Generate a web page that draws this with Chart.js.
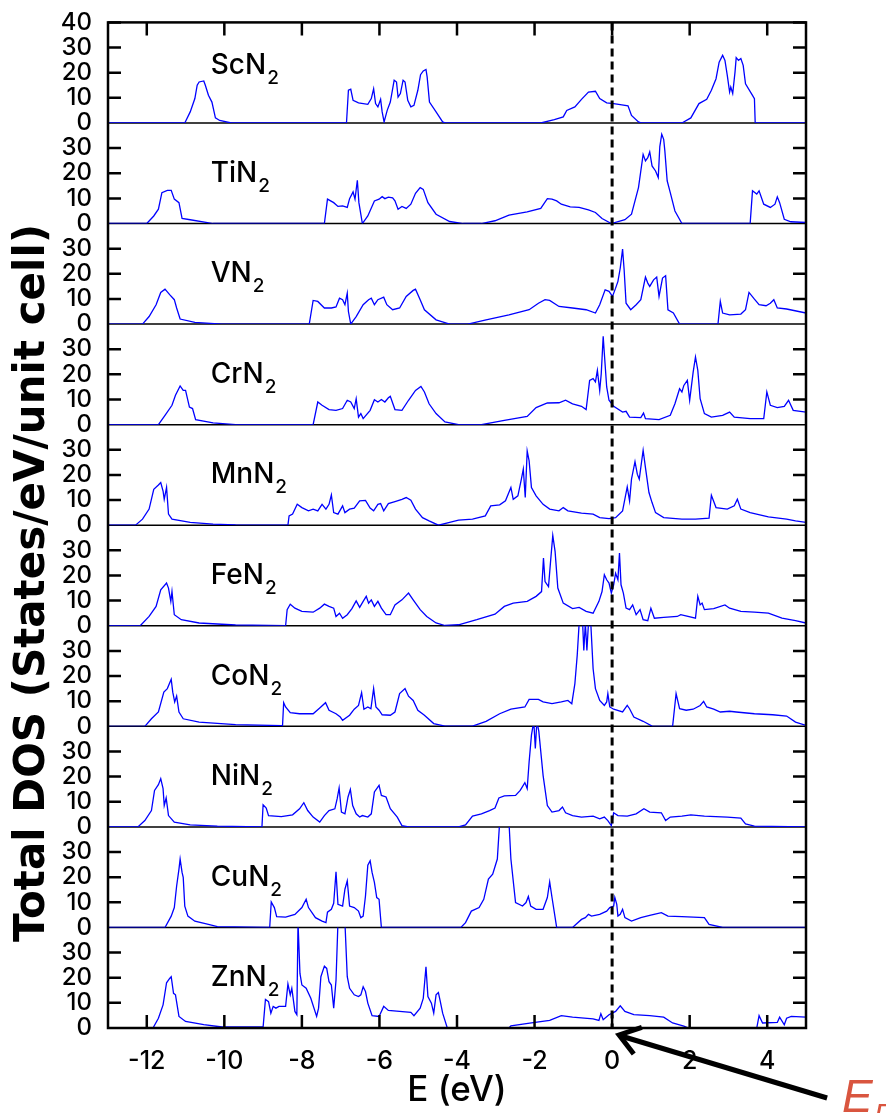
<!DOCTYPE html>
<html>
<head>
<meta charset="utf-8">
<script src="https://cdn.jsdelivr.net/npm/chart.js@4.4.1/dist/chart.umd.min.js"></script>
<style>
  html, body { margin: 0; padding: 0; background: #fff; }
  #wrap { position: relative; width: 886px; height: 1113px; }
</style>
</head>
<body>
<div id="wrap"><canvas id="dosChart"></canvas></div>
<script>
// metals of the MN2 compounds, top panel first
const compounds = ['Sc', 'Ti', 'V', 'Cr', 'Mn', 'Fe', 'Co', 'Ni', 'Cu', 'Zn'];
const energyTicks = [-12, -10, -8, -6, -4, -2, 0, 2, 4];
const dosTicks = [0, 10, 20, 30];
const dosTicksTop = [0, 10, 20, 30, 40];

// [E (eV), total DOS]
const scN2 = [[-13,0],[-11.02,0],[-10.88,4.4],[-10.76,9.7],[-10.70,15],[-10.65,16.3],[-10.53,16.7],[-10.49,15],[-10.41,11],[-10.32,8.3],[-10.23,2],[-10.12,1],[-9.82,0],
  [-6.85,0],[-6.80,13],[-6.74,13.4],[-6.68,9],[-6.54,8],[-6.30,7.4],[-6.21,9.7],[-6.15,13.6],[-6.10,7.7],[-6.04,6.4],[-5.97,9.4],[-5.93,4.4],[-5.88,0.4],[-5.80,5],[-5.72,8.3],
  [-5.62,17],[-5.56,16.3],[-5.52,10.3],[-5.46,11.7],[-5.39,17],[-5.34,16.3],[-5.27,9],[-5.19,6.4],[-5.11,7],[-5.01,13],[-4.94,19.2],[-4.87,20.7],[-4.80,21.3],[-4.77,18.3],
  [-4.71,8.3],[-4.54,4.4],[-4.37,0.4],[-4.31,0],[-1.84,0],[-1.49,1.3],[-1.26,2.4],[-1.17,5],[-0.96,6.4],[-0.79,9.4],[-0.61,12.3],[-0.43,12.6],[-0.32,9.7],[-0.14,8],
  [0.04,7.7],[0.21,7.3],[0.41,6.8],[0.50,3],[0.68,0.4],[0.74,0],[1.80,0],[2.03,2],[2.24,7.7],[2.44,9.4],[2.56,13],[2.68,17.6],[2.76,24.2],[2.85,26.9],[2.91,24.9],
  [2.97,18.9],[3.03,12.3],[3.06,14.3],[3.11,11.7],[3.17,20.3],[3.20,26],[3.26,24.9],[3.32,25.6],[3.38,22.9],[3.44,15.6],[3.62,11],[3.67,9.7],[3.69,0],[5,0]];

const tiN2 = [[-13,0],[-12,0],[-11.82,3],[-11.70,5.7],[-11.61,12.3],[-11.47,13.2],[-11.37,13.2],[-11.29,9.7],[-11.17,8.3],[-11.09,2],[-10.88,1.5],[-10.29,0],
  [-7.42,0],[-7.34,9.7],[-7.18,8.3],[-7.07,6.8],[-6.95,7],[-6.83,6.4],[-6.77,9.9],[-6.68,12.6],[-6.63,9.7],[-6.57,17.2],[-6.53,8.3],[-6.44,0],[-6.30,3],[-6.13,9],
  [-6.01,9.7],[-5.93,10.7],[-5.86,9.9],[-5.77,10.5],[-5.66,10.2],[-5.60,9],[-5.52,5.7],[-5.42,6.8],[-5.31,6],[-5.19,7.7],[-5.07,12],[-4.95,14.3],[-4.87,13.6],[-4.75,8.3],
  [-4.54,3.7],[-4.19,0.8],[-3.84,0],[-3.37,0],[-3.02,1.1],[-2.66,3.3],[-2.19,4.6],[-1.84,6],[-1.67,9.9],[-1.55,9.7],[-1.43,9],[-1.31,7.7],[-1.08,6.6],[-0.85,6.4],
  [-0.61,5.4],[-0.43,4.4],[-0.26,2],[-0.02,0],[0.33,1.5],[0.50,3.7],[0.68,14.3],[0.80,27.5],[0.86,24.9],[0.92,26.2],[0.97,28.5],[1.03,22.9],[1.12,20.9],[1.19,18.3],
  [1.23,30.6],[1.28,35.5],[1.33,33.5],[1.36,28.9],[1.42,17],[1.50,12.3],[1.62,5],[1.80,0],[3.56,0],[3.62,13],[3.73,11.7],[3.79,13],[3.91,7.7],[4.08,6.4],[4.20,7.7],
  [4.26,10.6],[4.32,8.3],[4.44,1.7],[4.61,0.7],[5,0.4]];

const vN2 = [[-13,0],[-12.11,0],[-11.94,3],[-11.76,7.7],[-11.64,12.6],[-11.53,13.9],[-11.41,11.7],[-11.29,9.7],[-11.23,6.4],[-11.14,2],[-10.76,0.7],[-10.06,0],
  [-7.81,0],[-7.71,9.4],[-7.59,9],[-7.42,6.4],[-7.24,6.4],[-7.12,6.8],[-7.03,10.3],[-6.95,9.7],[-6.89,7.7],[-6.83,12.3],[-6.80,5],[-6.74,0],[-6.60,3],[-6.42,7.7],
  [-6.28,9.7],[-6.21,10.3],[-6.13,7.7],[-6.04,9.7],[-5.89,10.7],[-5.81,7.7],[-5.66,5.7],[-5.48,6.4],[-5.31,11],[-5.13,13.4],[-5.07,13.9],[-4.95,9.7],[-4.84,5.7],
  [-4.54,1.7],[-4.19,0],[-3.72,0],[-3.25,1.7],[-2.66,3.7],[-2.14,5.7],[-1.90,8.3],[-1.73,9.7],[-1.61,9.4],[-1.37,7],[-1.02,6.4],[-0.67,5.7],[-0.43,4.4],[-0.32,7.7],
  [-0.18,13.6],[-0.08,13],[0.01,11],[0.09,14.3],[0.15,17],[0.21,22.3],[0.27,29.8],[0.31,21.6],[0.36,8.3],[0.48,5.7],[0.62,7.7],[0.74,9.7],[0.86,18.7],[0.92,16.3],
  [0.97,15],[1.07,17.6],[1.15,18.7],[1.21,11],[1.30,18.3],[1.38,19.2],[1.44,5.7],[1.58,4.4],[1.74,0],[2.73,0],[2.79,9],[2.85,4.4],[3.03,3.7],[3.32,4],[3.44,5.7],
  [3.53,12.6],[3.67,9.9],[3.79,7.7],[3.97,7.3],[4.08,8.3],[4.17,9.7],[4.26,6.4],[4.50,6],[5,4.4]];

const crN2 = [[-13,0],[-11.70,0],[-11.53,3.7],[-11.35,7.7],[-11.26,11.7],[-11.14,15.4],[-11.06,13.6],[-11.00,13.6],[-10.90,7],[-10.82,6.4],[-10.74,2],[-10.29,0.7],[-9.71,0],
  [-7.71,0],[-7.59,9],[-7.48,7.7],[-7.30,6],[-7.12,5.7],[-6.95,6.4],[-6.83,9.7],[-6.74,9],[-6.65,6.4],[-6.60,10.3],[-6.54,3],[-6.48,4.4],[-6.42,2.4],[-6.24,5.7],
  [-6.13,9.9],[-6.04,9],[-5.95,10],[-5.86,9],[-5.77,10.7],[-5.72,11.3],[-5.60,6],[-5.42,5.7],[-5.25,9.7],[-5.07,13.6],[-4.93,15.2],[-4.84,13],[-4.72,8.3],[-4.54,4.4],
  [-4.31,1.1],[-3.96,0],[-3.37,0],[-2.78,1.7],[-2.19,3.3],[-1.96,6.8],[-1.67,8.6],[-1.37,8.7],[-1.20,9.7],[-1.02,8.3],[-0.79,7.3],[-0.67,6],[-0.58,17.6],[-0.49,18.3],
  [-0.43,17],[-0.38,21.6],[-0.32,13.6],[-0.28,20.3],[-0.23,35.1],[-0.20,28.2],[-0.14,15],[-0.08,9.7],[0.04,7.3],[0.27,5],[0.36,5.3],[0.45,3],[0.74,2.8],[0.81,4.6],
  [0.86,2.4],[1.21,2],[1.50,3.7],[1.62,8.3],[1.74,14.3],[1.80,13],[1.85,15.6],[1.94,17.6],[2.00,9.7],[2.09,20.9],[2.15,26.9],[2.21,21.6],[2.27,10.3],[2.38,4.4],
  [2.56,3],[2.85,3.7],[3.03,5],[3.15,3],[3.56,2.4],[3.91,2.4],[3.99,13],[4.08,7.7],[4.26,6.8],[4.44,7.3],[4.55,9.7],[4.67,5.7],[5,5]];

const mnN2 = [[-13,0],[-12.29,0],[-12.11,2.4],[-11.94,6.4],[-11.82,14.3],[-11.70,16],[-11.64,17],[-11.58,13.6],[-11.55,10.3],[-11.49,15],[-11.44,4.4],[-11.35,2.4],
  [-10.88,1.1],[-10.29,0.4],[-9.71,0.1],[-8.36,0],[-8.33,3.7],[-8.24,4.4],[-8.12,8.3],[-8.00,7],[-7.83,5.7],[-7.71,6.4],[-7.59,5.7],[-7.48,8.3],[-7.38,6.4],[-7.30,8.3],
  [-7.24,12],[-7.18,5],[-7.07,4.4],[-6.95,7.7],[-6.89,5],[-6.77,6.4],[-6.65,6.8],[-6.51,9.7],[-6.36,9.9],[-6.24,6.8],[-6.15,5.7],[-6.04,8.3],[-5.97,8.6],[-5.89,5.7],
  [-5.77,8.6],[-5.60,9.4],[-5.42,10.3],[-5.31,11],[-5.19,9.9],[-5.07,6.4],[-4.89,3],[-4.72,1.7],[-4.48,0],[-4.19,1.1],[-3.96,2],[-3.60,2.4],[-3.27,3.7],[-3.13,7.7],
  [-2.90,8.1],[-2.75,9.7],[-2.61,15],[-2.55,10.3],[-2.43,11.7],[-2.34,18.3],[-2.29,22.3],[-2.24,11],[-2.19,29.5],[-2.14,25.6],[-2.08,15],[-1.96,11.7],[-1.78,8.3],
  [-1.61,6.4],[-1.37,5.7],[-1.26,7],[-1.14,5.7],[-0.79,4.8],[-0.49,4.4],[-0.32,3],[-0.08,2.6],[0.09,3],[0.27,5.7],[0.39,15.2],[0.45,9.7],[0.50,18.3],[0.59,25.3],
  [0.65,20.3],[0.70,18.3],[0.80,29.8],[0.86,22.9],[0.95,13],[1.03,9],[1.12,5],[1.33,3],[1.80,2.4],[2.15,2.4],[2.50,2.8],[2.56,11.9],[2.68,7],[2.97,6.4],[3.15,7.7],
  [3.23,10.3],[3.32,6.4],[3.56,5],[4.03,3.3],[4.50,2.4],[4.73,1.7],[5,1.1]];

const feN2 = [[-13,0],[-12.17,0],[-11.94,3.7],[-11.76,7.7],[-11.64,14.3],[-11.49,17],[-11.44,15],[-11.38,9.7],[-11.35,13.6],[-11.29,4.4],[-11.11,2.4],[-10.65,1.1],
  [-9.71,0.3],[-8.42,0],[-8.38,6.4],[-8.30,8.6],[-8.18,7],[-8.00,5.7],[-7.71,5.4],[-7.54,7],[-7.42,8.6],[-7.30,7.7],[-7.18,7],[-7.12,3.7],[-7.03,5],[-6.95,3],
  [-6.83,4.4],[-6.71,6.8],[-6.60,9.9],[-6.51,7.3],[-6.42,9.7],[-6.34,11.7],[-6.28,9],[-6.21,10.3],[-6.13,7.7],[-6.04,9.7],[-5.95,7],[-5.83,4.4],[-5.72,4.4],[-5.60,8.3],
  [-5.42,10.3],[-5.25,13],[-5.13,10.3],[-4.95,6.4],[-4.78,3.7],[-4.54,1.1],[-4.31,0.1],[-3.96,0.4],[-3.49,2.4],[-3.02,4.6],[-2.78,7.7],[-2.55,9],[-2.19,9.7],
  [-1.96,11.7],[-1.82,13.6],[-1.77,26.9],[-1.73,17.6],[-1.64,15.6],[-1.58,26.9],[-1.53,35.9],[-1.47,29.5],[-1.40,15],[-1.26,9],[-1.02,6.8],[-0.85,7.3],[-0.67,5.7],
  [-0.49,5],[-0.34,9.7],[-0.26,13.6],[-0.20,20.3],[-0.14,18.3],[-0.08,17],[-0.02,13],[0.04,16.3],[0.09,20.9],[0.15,18.3],[0.19,28.9],[0.23,16.3],[0.29,13],[0.36,7],
  [0.45,6.4],[0.53,8.3],[0.62,4.4],[0.72,6.4],[0.80,2.4],[0.92,2],[1.00,7],[1.09,3],[1.33,3.3],[1.68,3.7],[1.77,4.4],[2.15,3],[2.21,11.7],[2.27,8.3],[2.32,9],
  [2.38,6.4],[2.62,6.8],[2.91,8.3],[3.03,7],[3.32,5.7],[3.67,5.4],[4.03,5],[4.38,3],[4.73,2],[5,1.1]];

const coN2 = [[-13,0],[-12.05,0],[-11.88,3],[-11.70,5.7],[-11.56,13.6],[-11.47,15],[-11.37,18.7],[-11.33,13.6],[-11.28,9.7],[-11.23,12],[-11.17,5.7],[-11.06,3],
  [-10.65,1.7],[-9.71,0.7],[-8.53,0.3],[-8.50,0],[-8.47,9.4],[-8.42,7.7],[-8.30,5.4],[-8.06,5],[-7.71,5],[-7.54,7.3],[-7.39,9.4],[-7.30,6.4],[-7.12,5],[-7.01,3.7],
  [-6.95,2.4],[-6.77,4.4],[-6.65,6.8],[-6.54,8.3],[-6.46,13.4],[-6.40,6.8],[-6.30,7.7],[-6.22,7],[-6.15,15],[-6.09,7.7],[-6.01,6.4],[-5.93,4.6],[-5.72,4.4],[-5.60,5.7],
  [-5.48,13],[-5.34,15],[-5.25,12],[-5.13,10.3],[-5.01,6.4],[-4.84,4.4],[-4.60,1.1],[-4.31,0.1],[-3.60,0.1],[-3.25,2],[-2.90,5],[-2.61,6.8],[-2.25,7.7],[-2.14,10.7],
  [-1.90,10.7],[-1.78,9.7],[-1.55,9],[-1.31,9.7],[-1.14,10.3],[-1.04,9],[-0.96,17],[-0.90,28.2],[-0.85,41],[-0.76,41],[-0.73,30.2],[-0.69,41],[-0.65,30.2],[-0.61,41],
  [-0.55,41],[-0.49,22.9],[-0.43,15],[-0.32,10.3],[-0.20,8.3],[-0.14,9.7],[-0.11,13],[-0.06,7.7],[0.04,6.8],[0.27,5.7],[0.39,8.3],[0.45,7],[0.56,3.7],[0.80,2],
  [1.03,0.1],[1.56,0],[1.65,13],[1.74,7],[1.91,6.4],[2.09,6.8],[2.27,8.3],[2.36,9.9],[2.44,7.7],[2.62,6.8],[2.79,5.7],[3.03,6],[3.20,5.7],[3.67,5],[4.14,4.6],
  [4.50,4.1],[4.73,1.7],[5,0.4]];

const niN2 = [[-13,0],[-12.23,0],[-12.05,2.5],[-11.88,6.5],[-11.80,14.5],[-11.70,16.8],[-11.64,19.2],[-11.58,15.2],[-11.55,8.5],[-11.50,11.5],[-11.44,4.5],[-11.29,1.9],
  [-10.88,0.8],[-10.18,0.3],[-9.03,0],[-9.00,8.8],[-8.92,7.5],[-8.86,4.5],[-8.53,4.1],[-8.24,4.8],[-8.06,7.2],[-7.95,9.6],[-7.85,6.5],[-7.71,3.9],[-7.54,1.9],
  [-7.42,4.5],[-7.30,6.5],[-7.15,7.2],[-7.09,11.2],[-7.04,15.5],[-6.98,5.9],[-6.89,5.2],[-6.81,11.9],[-6.75,14.9],[-6.69,8.5],[-6.60,5.2],[-6.51,3.9],[-6.44,4.5],
  [-6.30,3.9],[-6.21,5.2],[-6.13,13.9],[-6.01,16.5],[-5.95,12.5],[-5.83,11.9],[-5.72,7.2],[-5.54,3.9],[-5.42,0.5],[-5.25,0],[-3.96,0],[-3.78,0.8],[-3.60,4.3],
  [-3.37,5.2],[-3.16,6.5],[-3.02,7.5],[-2.92,11.5],[-2.78,12.3],[-2.49,12.5],[-2.37,14.5],[-2.25,17.6],[-2.19,15.2],[-2.14,25.9],[-2.08,36.5],[-2.02,42],[-1.98,31.2],
  [-1.94,42],[-1.89,38],[-1.78,20.5],[-1.67,8.5],[-1.55,5.9],[-1.37,6.5],[-1.28,7.9],[-1.20,5.6],[-1.02,4.5],[-0.79,3.9],[-0.49,4.3],[-0.32,3.2],[-0.20,3.9],
  [-0.11,2.5],[-0.02,0.5],[0.04,5.6],[0.15,4.5],[0.39,4.3],[0.62,5.2],[0.82,7.2],[0.97,5.9],[1.27,5.6],[1.38,2.5],[1.50,3.9],[1.80,4.3],[2.03,4.8],[2.38,4.3],
  [2.97,3.9],[3.32,3.5],[3.44,1.2],[3.67,0.3],[5,0]];

const cuN2 = [[-13,0],[-11.53,0],[-11.37,4.5],[-11.29,7.9],[-11.23,16.5],[-11.17,23.2],[-11.14,27.2],[-11.09,21.9],[-11.06,19.9],[-11.02,8.5],[-10.94,4.5],[-10.76,2.5],
  [-10.41,1.2],[-10.18,0.3],[-8.83,0],[-8.79,10.1],[-8.71,7.9],[-8.65,4.3],[-8.42,4.1],[-8.18,5.2],[-8.00,7.9],[-7.89,11.2],[-7.83,7.9],[-7.65,3.9],[-7.48,2.5],
  [-7.38,1.9],[-7.34,6.1],[-7.24,7.2],[-7.18,9.6],[-7.12,22.1],[-7.07,9.2],[-6.95,8.5],[-6.89,15.2],[-6.83,18.5],[-6.77,8.5],[-6.65,7.9],[-6.54,6.5],[-6.48,3.9],
  [-6.42,4.5],[-6.36,12.5],[-6.30,24.8],[-6.24,26.5],[-6.19,21.9],[-6.13,17.9],[-6.07,11.9],[-6.01,11.2],[-5.95,0],[-3.90,0],[-3.78,1.9],[-3.63,6.5],[-3.43,7.9],
  [-3.31,11.2],[-3.19,19.2],[-3.08,21.2],[-2.96,27.2],[-2.90,42],[-2.66,42],[-2.61,27.2],[-2.49,9.9],[-2.31,8.5],[-2.22,9.9],[-2.16,12.3],[-2.10,8.5],[-1.96,7.2],
  [-1.78,7.2],[-1.67,11.9],[-1.61,18.1],[-1.55,11.9],[-1.43,0],[-1.02,0],[-0.79,3.2],[-0.69,3.9],[-0.61,5.2],[-0.53,4.5],[-0.32,5.2],[-0.14,6.5],[-0.06,7.9],
  [0.04,8.5],[0.07,11.9],[0.12,9.2],[0.15,4.5],[0.21,5.2],[0.27,7.2],[0.33,3.9],[0.50,2.5],[0.74,3.9],[0.97,4.8],[1.27,5.9],[1.44,4.5],[1.80,4.3],[2.38,3.9],
  [2.50,1.2],[2.85,0],[5,0]];

const znN2 = [[-13,0],[-11.84,0],[-11.70,3.9],[-11.58,9.2],[-11.49,18],[-11.41,19.7],[-11.37,20.4],[-11.31,13.8],[-11.26,13.2],[-11.17,4.6],[-11.00,2.6],[-10.53,1.3],
  [-10.06,0.4],[-9.00,0.4],[-8.94,11.4],[-8.86,10.5],[-8.80,5.9],[-8.74,8.6],[-8.67,7.9],[-8.59,8.6],[-8.42,8.6],[-8.36,17.5],[-8.30,13.2],[-8.26,15.8],[-8.18,6.6],
  [-8.13,5.3],[-8.10,42],[-8.05,21.7],[-8.00,17.1],[-7.89,15.8],[-7.77,11.8],[-7.62,4.6],[-7.57,7.9],[-7.51,20.4],[-7.42,24.6],[-7.36,23.7],[-7.30,18.4],[-7.24,17.1],
  [-7.18,7.9],[-7.12,19],[-7.07,42],[-6.89,42],[-6.83,20.4],[-6.77,15.8],[-6.65,13.2],[-6.54,12.5],[-6.48,13.2],[-6.42,16.4],[-6.36,14.5],[-6.30,9.9],[-6.19,4.9],
  [-6.01,4.6],[-5.89,8.6],[-5.77,7],[-5.48,6.6],[-5.19,6.2],[-5.11,4.9],[-4.95,7.9],[-4.87,11.8],[-4.80,24.3],[-4.75,12.5],[-4.66,9.9],[-4.60,5.9],[-4.54,13.2],
  [-4.48,14.1],[-4.43,10.5],[-4.37,5.9],[-4.25,0],[-2.66,0],[-2.61,0.9],[-2.08,2],[-1.61,3],[-1.31,4.9],[-1.02,4.3],[-0.49,3.6],[-0.34,3],[-0.29,5.7],[-0.23,3.3],
  [-0.08,5.3],[0.09,6.6],[0.21,8.8],[0.33,6.6],[0.56,5.3],[0.97,4.9],[1.33,4.3],[1.56,2],[1.85,0.7],[1.97,0],[3.73,0],[3.79,4.9],[3.88,2],[4.26,2.2],[4.32,4.3],
  [4.44,1.3],[4.50,3.9],[4.62,4.6],[5,4.3]];

const dosCurves = [scN2, tiN2, vN2, crN2, mnN2, feN2, coN2, niN2, cuN2, znN2];

const FONT = 'DejaVu Sans';
const TICK_FONT = 'Inter';

// separators, frame, inward ticks, Fermi line, panel names, y title and the E_F arrow
const panelDecor = {
  id: 'panelDecor',
  beforeDatasetsDraw(chart) {
    const { ctx, chartArea: a } = chart;
    ctx.save();
    ctx.strokeStyle = '#000';
    ctx.lineWidth = 1.5;
    compounds.forEach((c, i) => {
      const y = chart.scales['y' + i].getPixelForValue(0);
      ctx.beginPath();
      ctx.moveTo(a.left, y);
      ctx.lineTo(a.right, y);
      ctx.stroke();
    });
    ctx.restore();
  },
  afterDatasetsDraw(chart) {
    const { ctx, chartArea: a, scales } = chart;
    const xs = scales.x;
    ctx.save();
    ctx.strokeStyle = '#000';

    // dashed line at the Fermi level
    const x0 = xs.getPixelForValue(0);
    ctx.lineWidth = 3;
    ctx.setLineDash([8, 5]);
    ctx.beginPath();
    ctx.moveTo(x0, a.top);
    ctx.lineTo(x0, a.bottom);
    ctx.stroke();
    ctx.setLineDash([]);

    // ticks pointing inwards
    ctx.lineWidth = 2.5;
    const tl = 13;
    energyTicks.forEach(v => {
      const x = xs.getPixelForValue(v);
      ctx.beginPath();
      ctx.moveTo(x, a.top); ctx.lineTo(x, a.top + tl);
      ctx.moveTo(x, a.bottom); ctx.lineTo(x, a.bottom - tl);
      ctx.stroke();
    });
    compounds.forEach((c, i) => {
      const ys = scales['y' + i];
      (i === 0 ? dosTicksTop : dosTicks).forEach(v => {
        if (v === 0) return;
        const y = ys.getPixelForValue(v);
        ctx.beginPath();
        ctx.moveTo(a.left, y); ctx.lineTo(a.left + tl, y);
        ctx.moveTo(a.right, y); ctx.lineTo(a.right - tl, y);
        ctx.stroke();
      });
    });

    // frame
    ctx.lineWidth = 2.5;
    ctx.strokeRect(a.left, a.top, a.right - a.left, a.bottom - a.top);

    // compound names with subscript 2
    ctx.fillStyle = '#000';
    ctx.textBaseline = 'alphabetic';
    ctx.textAlign = 'left';
    compounds.forEach((c, i) => {
      const ys = scales['y' + i];
      const x = xs.getPixelForValue(-10.35);
      const y = ys.getPixelForValue(i === 0 ? 19.4 : 16.6);
      ctx.font = '500 28px "' + TICK_FONT + '"';
      const main = c + 'N';
      ctx.fillText(main, x, y);
      const w = ctx.measureText(main).width;
      ctx.font = '500 19px "' + TICK_FONT + '"';
      ctx.fillText('2', x + w + 1, y + 10);
    });
    ctx.restore();
  },
  afterDraw(chart) {
    const { ctx, chartArea: a, scales } = chart;
    const xs = scales.x;
    ctx.save();

    // y axis title
    ctx.fillStyle = '#000';
    ctx.font = 'bold 42px "' + FONT + '"';
    ctx.textAlign = 'center';
    ctx.textBaseline = 'middle';
    ctx.translate(33, 583);
    ctx.rotate(-Math.PI / 2);
    ctx.fillText('Total DOS (States/eV/unit cell)', 0, 0);
    ctx.setTransform(1, 0, 0, 1, 0, 0);

    // arrow pointing at E = 0 on the energy axis
    const tipX = xs.getPixelForValue(0) + 7;
    const tipY = a.bottom + 7;
    const tailX = tipX + 208, tailY = tipY + 63;
    const ang = Math.atan2(tailY - tipY, tailX - tipX);
    ctx.strokeStyle = '#000';
    ctx.lineWidth = 5;
    ctx.lineCap = 'butt';
    ctx.beginPath();
    ctx.moveTo(tailX, tailY);
    ctx.lineTo(tipX + 2, tipY + 1);
    ctx.stroke();
    ctx.beginPath();
    ctx.moveTo(tipX + 24 * Math.cos(ang - 0.62), tipY + 24 * Math.sin(ang - 0.62));
    ctx.lineTo(tipX, tipY);
    ctx.lineTo(tipX + 24 * Math.cos(ang + 0.62), tipY + 24 * Math.sin(ang + 0.62));
    ctx.stroke();

    // E_F label
    ctx.fillStyle = '#d9553f';
    ctx.textAlign = 'left';
    ctx.textBaseline = 'alphabetic';
    ctx.font = 'italic 46px "Liberation Sans"';
    ctx.fillText('E', 842, 1112);
    ctx.font = 'italic 30px "Liberation Sans"';
    ctx.fillText('F', 874, 1124);
    ctx.restore();
  }
};

const datasets = dosCurves.map((pts, i) => ({
  label: compounds[i] + 'N2',
  data: pts.map(p => ({ x: p[0], y: p[1] })),
  yAxisID: 'y' + i,
  borderColor: '#0000ff',
  borderWidth: 1.3,
  pointRadius: 0,
  fill: false,
  tension: 0
}));

const scales = {
  x: {
    type: 'linear',
    position: 'bottom',
    min: -13,
    max: 5,
    grid: { display: false },
    border: { display: false },
    afterBuildTicks: s => { s.ticks = energyTicks.map(v => ({ value: v })); },
    afterFit: s => { s.height = 85; },
    ticks: { color: '#000', font: { family: TICK_FONT, size: 25, weight: '500' }, padding: 10, maxRotation: 0, autoSkip: false },
    title: { display: true, text: 'E (eV)', color: '#000', font: { family: TICK_FONT, size: 35, weight: '500' }, padding: { top: 0, bottom: 2 } }
  }
};
// stacked panels: the last axis defined ends up at the top of the stack
for (let i = compounds.length - 1; i >= 0; i--) {
  scales['y' + i] = {
    type: 'linear',
    position: 'left',
    stack: 'dos',
    stackWeight: 1,
    min: 0,
    max: 40,
    grid: { display: false },
    border: { display: false },
    afterBuildTicks: s => { s.ticks = (i === 0 ? dosTicksTop : dosTicks).map(v => ({ value: v })); },
    afterFit: s => { s.width = 108; },
    ticks: { color: '#000', font: { family: TICK_FONT, size: 24, weight: '500' }, padding: 8, autoSkip: false }
  };
}

new Chart(document.getElementById('dosChart'), {
  type: 'line',
  data: { datasets },
  options: {
    responsive: true,
    maintainAspectRatio: false,
    animation: false,
    layout: { padding: { top: 18, right: 80, bottom: 0, left: 0 } },
    plugins: { legend: { display: false }, tooltip: { enabled: false } },
    scales
  },
  plugins: [panelDecor]
});
</script>
</body>
</html>
